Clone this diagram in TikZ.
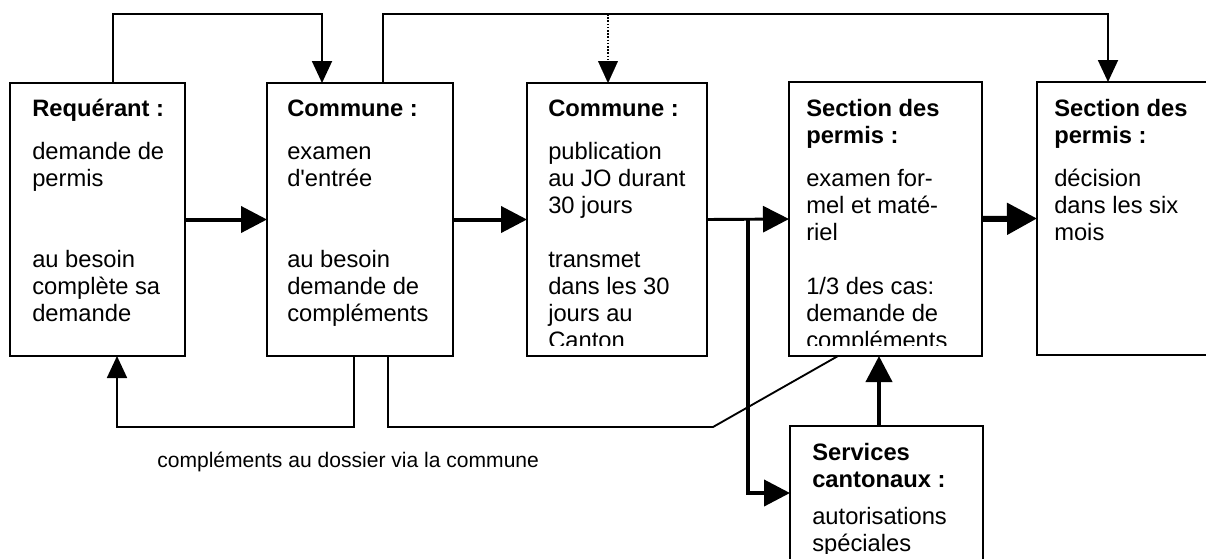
\documentclass[tikz,border=0pt]{standalone}
\usepackage{fontspec}
\setmainfont{Liberation Sans}[Ligatures=TeXOff]
\usetikzlibrary{arrows.meta}
\tikzset{
  box/.style={draw, line width=1.5pt, rectangle, inner sep=0pt, outer sep=0pt, anchor=north west},
  txt/.style={anchor=base west, inner sep=0pt, font=\fontsize{17.8}{20.25}\selectfont},
  lbl/.style={anchor=west, inner sep=0pt, font=\fontsize{15.8}{19}\selectfont},
  ln/.style={line width=1.4pt},
  thk/.style={line width=3pt},
  tipS/.style={-{Triangle[length=16.5pt,width=15pt]}},
  tipM/.style={-{Triangle[length=19.5pt,width=19.5pt]}},
  tipL/.style={-{Triangle[length=22.5pt,width=23pt]}},
}
\newcommand{\tb}[1]{\begin{tabular}[t]{@{}l@{}}#1\end{tabular}}
\begin{document}
\begin{tikzpicture}[x=0.75pt,y=-0.75pt]
\useasboundingbox (0,0) rectangle (1206,558);
\clip (0,0) rectangle (1206,558);
% boxes
\node[box, minimum width=131.25pt, minimum height=204.75pt] (box1) at (10,83) {};
\node[box, minimum width=139.5pt, minimum height=204.75pt] (box2) at (267,83) {};
\node[box, minimum width=135pt, minimum height=204.75pt] (box3) at (527,83) {};
\node[box, minimum width=144.75pt, minimum height=205.5pt] (box4) at (789,82) {};
\node[box, minimum width=144.75pt, minimum height=204.75pt] (box5) at (1037,82) {};
\node[box, minimum width=144.75pt, minimum height=100.5pt] (box6) at (790,426) {};
% texts
\node[txt] (t1) at (32,116) {\tb{\textbf{Requérant :}\\[12pt] demande de\\ permis\\[40.5pt] au besoin\\ complète sa\\ demande}};
\node[txt] (t2) at (287,116) {\tb{\textbf{Commune :}\\[12pt] examen\\ d'entrée\\[40.5pt] au besoin\\ demande de\\ compléments}};
\begin{scope}
\clip (527,83) rectangle (707,345);
\node[txt] (t3) at (548,116) {\tb{\textbf{Commune :}\\[12pt] publication\\ au JO durant\\ 30 jours\\[20.25pt] transmet\\ dans les 30\\ jours au\\ Canton}};
\end{scope}
\begin{scope}
\clip (789,82) rectangle (982,345);
\node[txt] (t4) at (806,116) {\tb{\textbf{Section des}\\ \textbf{permis :}\\[12pt] examen for-\\ mel et maté-\\ riel\\[20.25pt] 1/3 des cas:\\ demande de\\ compléments}};
\end{scope}
\node[txt] (t5) at (1054,116) {\tb{\textbf{Section des}\\ \textbf{permis :}\\[12pt] décision\\ dans les six\\ mois}};
\begin{scope}
\clip (790,426) rectangle (983,553);
\node[txt] (t6) at (812,460) {\tb{\textbf{Services}\\ \textbf{cantonaux :}\\[8pt] autorisations\\ spéciales}};
\end{scope}
\node[lbl] (lab) at (157,462) {compléments au dossier via la commune};
% coordinates
\coordinate (u1) at (113,14);
\coordinate (u2) at (322,14);
\coordinate (u3) at (383,14);
\coordinate (u4) at (608,14);
\coordinate (u5) at (1108,14);
\coordinate (j1) at (748,219);
\coordinate (a6) at (879,0);
\coordinate (b1) at (354,427);
\coordinate (b2) at (117,427);
\coordinate (b3) at (388,427);
\coordinate (b4) at (713,427);
\coordinate (b5) at (838,0);
% top connectors
\draw[ln,tipS] (box1.north -| u1) |- (u2) -- (box2.north -| u2);
\draw[ln,tipS] (box2.north -| u3) |- (u5) -- (box5.north -| u5);
\draw[line width=1pt, dash pattern=on 1.2pt off 1.2pt] (u4) -- ([yshift=12pt]box3.north -| u4);
\draw[tipS, line width=0.1pt] ([yshift=12.5pt]box3.north -| u4) -- (box3.north -| u4);
% main flow
\draw[thk,tipM] (box1.east) -- (box2.west);
\draw[thk,tipM] (box2.east) -- (box3.west);
\draw[line width=2.2pt,tipM] (box3.east) -- (box4.west);
\draw[thk,tipM] (j1) |- (box6.west);
\draw[line width=4.5pt,tipL] (box4.east) -- (box5.west);
\draw[thk,tipM] (box6.north -| a6) -- (box4.south -| a6);
% bottom connectors
\draw[ln,tipS] (box2.south -| b1) |- (b2) -- (box1.south -| b2);
\draw[ln] (box2.south -| b3) |- (b4) -- (box4.south -| b5);
\end{tikzpicture}
\end{document}
